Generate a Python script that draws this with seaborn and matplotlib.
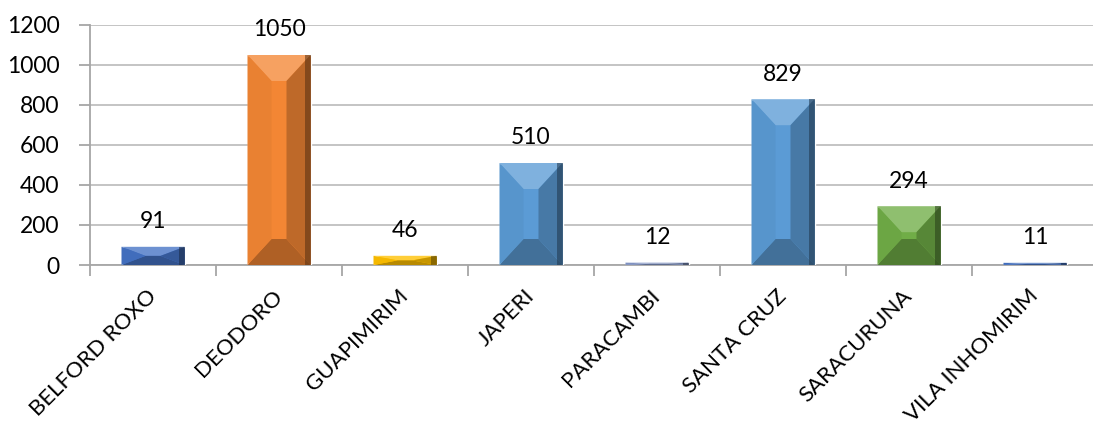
import numpy as np
import pandas as pd
import matplotlib
matplotlib.use("Agg")
import matplotlib.pyplot as plt
from matplotlib.patches import Polygon
from matplotlib.colors import to_rgb
import seaborn as sns

categories = ["BELFORD ROXO", "DEODORO", "GUAPIMIRIM", "JAPERI",
              "PARACAMBI", "SANTA CRUZ", "SARACURUNA", "VILA INHOMIRIM"]
values = [91, 1050, 46, 510, 12, 829, 294, 11]
bar_colors = ["#4472C4", "#F38634", "#FFC000", "#5B9BD5",
              "#8497C8", "#5B9BD5", "#70AD47", "#4472C4"]
y_ticks = [0, 200, 400, 600, 800, 1000, 1200]

sns.set_theme(style="white")
plt.rcParams["font.family"] = ["Lato", "DejaVu Sans"]

df = pd.DataFrame({"local": categories, "total": values})

fig = plt.figure(figsize=(10.93, 4.29), dpi=100)
ax = fig.add_axes([90 / 1093, 1 - 265 / 429, 1008 / 1093, 240 / 429])

sns.barplot(data=df, x="local", y="total", hue="local", palette=bar_colors,
            order=categories, hue_order=categories, width=0.5,
            legend=False, saturation=1, ax=ax, zorder=3)

ax.set_ylim(0, 1200)
ax.set_xlim(-0.5, len(categories) - 0.5)
ax.set_yticks(y_ticks)
ax.set_xlabel("")
ax.set_ylabel("")

# grid and axes styling
ax.yaxis.grid(True, color="#BFBFBF", linewidth=1.3, zorder=0)
ax.xaxis.grid(False)
for side in ["top", "right"]:
    ax.spines[side].set_visible(False)
for side in ["left", "bottom"]:
    ax.spines[side].set_color("#A6A6A6")
    ax.spines[side].set_linewidth(1.3)
ax.tick_params(axis="y", which="major", left=True, length=8, width=1.3,
               color="#A6A6A6", labelsize=16.5, pad=14, labelcolor="black")
ax.set_xticks(np.arange(len(categories)))
ax.set_xticklabels(categories, rotation=45, ha="right", va="center",
                   rotation_mode="anchor", fontsize=16, color="black")
ax.tick_params(axis="x", which="major", bottom=False, pad=14)
ax.set_xticks(np.arange(len(categories) + 1) - 0.5, minor=True)
ax.tick_params(axis="x", which="minor", bottom=True, length=8, width=1.3,
               color="#A6A6A6")


def shade(c, f):
    r = np.array(to_rgb(c))
    if f >= 0:
        return tuple(r + (1 - r) * f)
    return tuple(r * (1 + f))


# bevelled faces on each bar, derived from the bar geometry
fig.canvas.draw()
px_x = ax.transData.transform((1, 0))[0] - ax.transData.transform((0, 0))[0]
px_y = ax.transData.transform((0, 1))[1] - ax.transData.transform((0, 0))[1]
for patch, col in zip(ax.patches, bar_colors):
    x0 = patch.get_x()
    w = patch.get_width()
    h = patch.get_height()
    x1 = x0 + w
    y0, y1 = 0, h
    dx = min(24 / px_x, w / 2)
    dy = min(26 / px_y, h / 2)
    ix0, ix1 = x0 + dx, x1 - dx
    iy0, iy1 = y0 + dy, y1 - dy
    faces = [
        ([(x0, y1), (x1, y1), (ix1, iy1), (ix0, iy1)], shade(col, 0.22)),   # top
        ([(x0, y0), (x1, y0), (ix1, iy0), (ix0, iy0)], shade(col, -0.28)),  # bottom
        ([(x0, y0), (ix0, iy0), (ix0, iy1), (x0, y1)], shade(col, -0.04)),  # left
        ([(x1, y0), (ix1, iy0), (ix1, iy1), (x1, y1)], shade(col, -0.22)),  # right
    ]
    for pts, fc in faces:
        ax.add_patch(Polygon(pts, closed=True, facecolor=fc, edgecolor="none",
                             zorder=4))
    # darker rim on the right edge
    ax.add_patch(Polygon([(x1 - 6 / px_x, y0), (x1, y0), (x1, y1),
                          (x1 - 6 / px_x, y1)], closed=True,
                         facecolor=shade(col, -0.65), edgecolor="none",
                         alpha=0.55, zorder=5))

# value labels
for i, v in enumerate(values):
    ax.annotate(str(v), xy=(i, v), xytext=(0, 18), textcoords="offset points",
                ha="center", va="center", fontsize=16.5, color="black",
                zorder=6)

fig.savefig("out.png", dpi=100)
